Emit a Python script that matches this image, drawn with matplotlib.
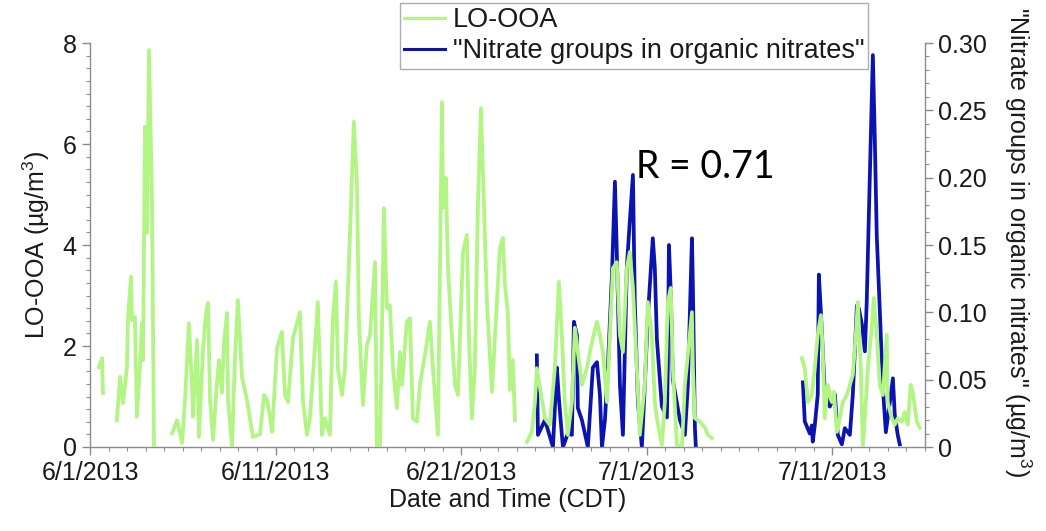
import numpy as np
import pandas as pd
import matplotlib
matplotlib.use("Agg")
import matplotlib.pyplot as plt
import matplotlib.dates as mdates
from matplotlib.ticker import MultipleLocator, FuncFormatter
from matplotlib.lines import Line2D

# ---------------- data (days after 6/1/2013 00:00, values) ----------------
start = pd.Timestamp("2013-06-01")

looa_days = [
    0.48, 0.65, 0.70, np.nan,
    1.45, 1.62, 1.78, 1.99, 2.05, 2.21, 2.26, 2.42, 2.53, 2.69, 2.80, 2.86,
    2.96, 3.07, 3.18, 3.34, 3.45, np.nan,
    4.42, 4.69, 4.96, 5.12, 5.33, 5.50, 5.55, 5.77, 5.87, 6.09, 6.25, 6.36,
    6.47, 6.63, 6.84, 6.95, 7.11, 7.22, 7.38, 7.44, 7.65, 7.81, 7.97, 8.19,
    8.46, 8.78, 9.16, 9.38, 9.54, 9.70, 9.81, 10.08, 10.34, 10.51, 10.67,
    10.94, 11.31, 11.48, 11.69, 11.85, 12.12, 12.28, 12.50, 12.66, 12.93,
    13.09, 13.25, 13.36, 13.58, 13.74, 14.01, 14.22, 14.39, 14.49, 14.71,
    14.92, 15.09, 15.36, 15.46, 15.63, 15.84, 16.00, 16.16, 16.33, 16.54,
    16.70, 16.81, 17.08, 17.24, 17.40, 17.62, 17.78, 18.05, 18.32, 18.48,
    18.75, 18.97, 19.02, 19.18, 19.29, 19.50, 19.67, 19.83, 20.10, 20.31,
    20.42, 20.58, 20.74, 20.91, 21.07, 21.17, 21.39, 21.66, 21.93, 22.09,
    22.25, 22.36, 22.52, 22.63, 22.79, 22.90, np.nan,
    23.55, 23.81, 23.98, 24.08, 24.25, 24.52, 24.78, 25.05, 25.27, 25.43,
    25.59, 25.75, 25.97, 26.13, 26.29, 26.51, 26.78, 27.05, 27.32, 27.48,
    27.64, 27.86, 28.02, 28.18, 28.39, 28.56, 28.72, 28.93, 29.09, 29.26,
    29.47, 29.63, 29.90, 30.06, 30.28, 30.44, 30.55, 30.82, 30.98, 31.14,
    31.30, 31.41, 31.63, 31.90, 32.06, 32.22, 32.44, 32.49, 32.60, 32.87,
    33.14, 33.30, 33.51, np.nan,
    38.36, 38.52, 38.69, 38.90, 39.06, 39.22, 39.39, 39.49, 39.60, 39.76,
    39.98, 40.09, 40.25, 40.41, 40.57, 40.79, 40.95, 41.11, 41.27, 41.38,
    41.54, 41.65, 41.81, 41.92, 42.13, 42.24, 42.40, 42.56, 42.73, 42.94,
    42.99, 43.21, 43.37, 43.53, 43.75, 43.91, 44.07, 44.23, 44.34, 44.56,
    44.72,
]
looa_vals = [
    1.58, 1.76, 1.07, np.nan,
    0.53, 1.39, 0.87, 1.58, 2.57, 3.37, 2.51, 2.57, 0.60, 1.58, 2.45, 1.72,
    6.34, 4.24, 7.86, 4.89, 0.00, np.nan,
    0.27, 0.53, 0.08, 0.93, 2.45, 1.19, 0.60, 2.12, 0.20, 1.92, 2.65, 2.85,
    0.93, 0.14, 1.27, 1.72, 1.07, 2.06, 2.65, 0.93, 0.00, 1.72, 2.91, 1.39,
    0.93, 0.20, 0.25, 1.03, 0.93, 0.60, 0.30, 1.96, 2.28, 1.03, 0.89,
    2.16, 2.67, 0.89, 0.24, 0.57, 1.96, 2.87, 0.24, 0.57, 0.24,
    2.55, 3.27, 1.56, 1.03, 1.56, 4.20, 6.44, 5.19, 2.55, 0.83,
    2.02, 2.22, 3.66, 0.00, 0.00, 4.73, 2.75, 2.81, 1.56, 0.77,
    1.88, 1.23, 2.48, 2.55, 0.57, 0.50, 1.23, 1.82, 2.48, 1.56,
    0.24, 6.83, 4.73, 5.33, 3.54, 2.22, 1.23, 1.03, 3.86, 4.20,
    2.22, 0.57, 1.56, 4.85, 6.71, 5.52, 2.87, 1.09, 2.87, 3.94,
    4.14, 3.21, 2.65, 1.13, 1.72, 0.53, np.nan,
    0.10, 0.30, 0.89, 1.56, 1.17, 0.57, 0.44, 1.56, 3.27, 2.22,
    0.89, 0.24, 0.89, 2.36, 1.88, 1.23, 1.56, 2.08, 2.48, 2.22,
    1.88, 0.89, 2.22, 3.54, 3.66, 2.22, 1.88, 3.54, 3.86, 3.15,
    1.56, 0.24, 1.23, 2.87, 2.22, 0.89, 0.57, 0.04, 0.89, 2.87,
    3.15, 1.56, 0.04, 0.00, 1.23, 1.82, 2.67, 1.56, 0.57, 0.50,
    0.38, 0.24, 0.18, np.nan,
    1.76, 1.56, 0.89, 1.03, 1.56, 2.22, 2.61, 1.88, 0.57, 1.23,
    0.89, 1.09, 0.30, 0.57, 0.89, 1.03, 1.23, 1.43, 2.22, 2.87,
    1.56, 0.00, 0.89, 1.56, 2.36, 2.95, 2.22, 1.23, 1.03, 2.22,
    0.89, 0.57, 0.44, 0.57, 0.50, 0.69, 0.44, 1.23, 1.09, 0.50,
    0.38,
]

nitrate_days = [
    24.08, 24.14, 24.52, 24.95, 25.16, 25.27, 25.43, 25.49, 25.75, 25.97,
    26.08, 26.24, 26.29, 26.51, 26.83, 27.10, 27.32, 27.48, 27.59, 27.75,
    27.91, 28.13, 28.29, 28.39, 28.56, 28.72, 28.93, 29.04, 29.26, 29.36,
    29.53, 29.74, 29.90, 30.06, 30.33, 30.44, 30.55, 30.82, 31.09, 31.14,
    31.20, 31.30, 31.41, 31.79, 32.06, 32.22, 32.44, 32.49, 32.60, 32.65,
    np.nan,
    38.42, 38.52, 38.79, 38.90, 38.95, 39.06, 39.22, 39.28, 39.39, 39.60,
    39.87, 40.14, 40.30, 40.52, 40.68, 40.95, 41.11, 41.33, 41.43, 41.60,
    41.76, 41.86, 41.97, 42.19, 42.29, 42.40, 42.56, 42.73, 42.89, 43.10,
    43.27, 43.37, 43.53, 43.64,
]
nitrate_vals = [
    0.068, 0.009, 0.020, 0.000, 0.059, 0.036, 0.009, 0.000, 0.010, 0.009,
    0.093, 0.083, 0.029, 0.020, 0.000, 0.059, 0.063, 0.039, 0.000, 0.020,
    0.059, 0.128, 0.197, 0.145, 0.046, 0.009, 0.133, 0.157, 0.202, 0.108,
    0.033, 0.000, 0.046, 0.096, 0.155, 0.133, 0.080, 0.030, 0.022, 0.059,
    0.150, 0.115, 0.050, 0.020, 0.009, 0.046, 0.155, 0.120, 0.014, 0.000,
    np.nan,
    0.048, 0.019, 0.010, 0.016, 0.004, 0.016, 0.039, 0.128, 0.100, 0.040,
    0.030, 0.039, 0.009, 0.002, 0.014, 0.009, 0.039, 0.105, 0.103, 0.091,
    0.071, 0.108, 0.170, 0.291, 0.232, 0.157, 0.103, 0.044, 0.011, 0.033,
    0.051, 0.024, 0.009, 0.002,
]

x_tick_dates = ["2013-06-01", "2013-06-11", "2013-06-21", "2013-07-01", "2013-07-11"]
x_tick_labels = ["6/1/2013", "6/11/2013", "6/21/2013", "7/1/2013", "7/11/2013"]
left_ticks = [0, 2, 4, 6, 8]
right_ticks = [0, 0.05, 0.10, 0.15, 0.20, 0.25, 0.30]

# ---------------- plotting ----------------
plt.rcParams["font.family"] = ["Liberation Sans", "DejaVu Sans"]
plt.rcParams["mathtext.fontset"] = "custom"
plt.rcParams["mathtext.rm"] = "Liberation Sans"
plt.rcParams["mathtext.it"] = "Liberation Sans:italic"

GREEN = "#b2f584"
BLUE = "#0c14b0"
AXC = "#8c8c8c"
TXT = "#1a1a1a"

def to_dates(days):
    out = []
    for d in days:
        if d is None or (isinstance(d, float) and np.isnan(d)):
            out.append(pd.NaT)
        else:
            out.append(start + pd.Timedelta(days=float(d)))
    return pd.DatetimeIndex(out)

gx = to_dates(looa_days)
gy = np.array(looa_vals, dtype=float)
bx = to_dates(nitrate_days)
by = np.array(nitrate_vals, dtype=float)

fig = plt.figure(figsize=(10.46, 5.31), dpi=100)
ax = fig.add_axes([90 / 1046, 1 - 447 / 531, (925 - 90) / 1046, (447 - 43) / 531])
ax2 = ax.twinx()

# blue underneath, green on top
ax2.plot(bx, by, color=BLUE, lw=2.7, solid_joinstyle="round", zorder=2)
ax.plot(gx, gy, color=GREEN, lw=2.7, solid_joinstyle="round", zorder=3)
ax.set_zorder(ax2.get_zorder() + 1)
ax.patch.set_visible(False)

ax.set_xlim(start, start + pd.Timedelta(days=45))
ax.set_ylim(0, 8)
ax2.set_ylim(0, 0.30)

for a in (ax, ax2):
    a.spines["top"].set_visible(False)
    for s in ("left", "right", "bottom"):
        a.spines[s].set_color(AXC)
        a.spines[s].set_linewidth(1.0)
ax.spines["right"].set_visible(False)
ax2.spines["left"].set_visible(False)
ax2.spines["bottom"].set_visible(False)

ax.set_xticks(pd.to_datetime(x_tick_dates))
ax.set_xticklabels(x_tick_labels)
ax.xaxis.set_minor_locator(mdates.DayLocator())
ax.set_yticks(left_ticks)
ax.yaxis.set_minor_locator(MultipleLocator(0.25))
ax2.set_yticks(right_ticks)
ax2.yaxis.set_minor_locator(MultipleLocator(0.01))
ax2.yaxis.set_major_formatter(FuncFormatter(lambda v, p: "0" if abs(v) < 1e-9 else f"{v:.2f}"))

ax.tick_params(axis="both", which="major", direction="out", length=6, width=1,
               color=AXC, labelsize=18, labelcolor=TXT)
ax.tick_params(axis="both", which="minor", direction="out", length=3, width=0.8, color=AXC)
ax2.tick_params(axis="y", which="major", direction="out", length=6, width=1,
                color=AXC, labelsize=18, labelcolor=TXT)
ax2.tick_params(axis="y", which="minor", direction="out", length=3, width=0.8, color=AXC)
ax.tick_params(axis="x", which="major", pad=4)

ax.set_xlabel("Date and Time (CDT)", fontsize=18, color=TXT, labelpad=2)
ax.set_ylabel("LO-OOA (µg/m$^{3}$)", fontsize=18, color=TXT, labelpad=8)
fig.text(1018 / 1046, 1 - 242 / 531,
         "\"Nitrate groups in organic nitrates\" (µg/m$^{3}$)", fontsize=18,
         color=TXT, rotation=-90, ha="center", va="center", rotation_mode="anchor")

# legend
handles = [Line2D([], [], color=GREEN, lw=2.2), Line2D([], [], color=BLUE, lw=2.2)]
leg = fig.legend(handles, ["LO-OOA", "\"Nitrate groups in organic nitrates\""],
                 loc="upper left", bbox_to_anchor=(400 / 1046, 1 - 3 / 531),
                 fontsize=19.5, frameon=True, fancybox=False, handlelength=1.5,
                 handletextpad=0.3, labelspacing=0.2, borderpad=0.15,
                 borderaxespad=0.0)
leg.get_frame().set_edgecolor("#999999")
leg.get_frame().set_linewidth(1.0)
for t in leg.get_texts():
    t.set_color(TXT)

ax.text(start + pd.Timedelta(days=29.42), 5.33, "R = 0.71", fontsize=27,
        family=["Lato", "DejaVu Sans"], color="black", va="baseline", ha="left",
        zorder=5)

fig.savefig("out.png", dpi=100)
